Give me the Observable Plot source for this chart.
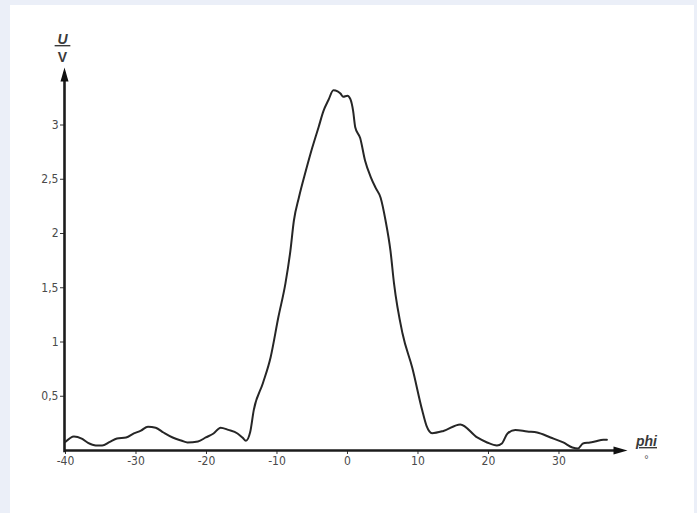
<!DOCTYPE html>
<html><head><meta charset="utf-8">
<script src="https://cdn.jsdelivr.net/npm/d3@7"></script>
<script src="https://cdn.jsdelivr.net/npm/@observablehq/plot@0.6"></script>
<style>
html,body{margin:0;padding:0;background:#ebeff8;width:697px;height:513px;overflow:hidden}
#panel{position:absolute;left:10px;top:5px;width:684px;height:508px;background:#fff}
#chart{position:absolute;left:0;top:0}
</style></head>
<body><div id="panel"></div><div id="chart"></div>
<script>
// Angle phi in degrees
const phi = [-40, -38.8, -37.7, -36.8, -35.7, -34.8, -33.7, -32.7, -31.4, -30.3, -29.3, -28.3, -27.2, -26.1, -24.8, -23.5, -22.7, -21.2, -20.1, -19.0, -18.0, -16.9, -15.6, -14.9, -14.4, -13.8, -13.3, -12.0, -10.9, -9.8, -8.8, -8.1, -7.6, -6.9, -5.9, -5.0, -4.1, -3.4, -2.7, -2.0, -1.4, -1.0, -0.6, 0, 0.4, 0.8, 1.1, 1.8, 2.5, 3.3, 4.0, 4.7, 5.4, 6.1, 6.6, 7.8, 9.2, 10.6, 11.2, 12.0, 13.6, 16.0, 18.4, 19.8, 21.2, 21.9, 22.7, 23.8, 25.5, 26.9, 28.8, 30.6, 31.9, 32.7, 33.4, 34.4, 35.1, 36.3, 36.8];
// Voltage U in volts
const U = [0.08, 0.13, 0.11, 0.07, 0.046, 0.046, 0.08, 0.11, 0.12, 0.157, 0.184, 0.22, 0.21, 0.166, 0.12, 0.09, 0.074, 0.083, 0.12, 0.157, 0.21, 0.19, 0.157, 0.12, 0.09, 0.17, 0.37, 0.62, 0.86, 1.23, 1.54, 1.84, 2.12, 2.33, 2.58, 2.79, 2.98, 3.13, 3.23, 3.32, 3.31, 3.29, 3.26, 3.27, 3.24, 3.13, 2.98, 2.88, 2.67, 2.52, 2.42, 2.33, 2.12, 1.84, 1.54, 1.08, 0.76, 0.37, 0.23, 0.16, 0.18, 0.24, 0.12, 0.074, 0.046, 0.065, 0.157, 0.19, 0.175, 0.166, 0.12, 0.074, 0.028, 0.018, 0.065, 0.074, 0.083, 0.1, 0.1];

const xTicks = [-40, -30, -20, -10, 0, 10, 20, 30];
const xTickLabels = ["-40", "-30", "-20", "-10", "0", "10", "20", "30"];
const yTicks = [0.5, 1, 1.5, 2, 2.5, 3];
const yTickLabels = ["0,5", "1", "1,5", "2", "2,5", "3"];

const xDomain = [-40.14, 39.72];
const yDomain = [0, 3.53];

const data = phi.map((p, i) => ({phi: p, U: U[i]}));

const arrowHead = {
  draw(ctx) { ctx.moveTo(0, -7); ctx.lineTo(4, 7); ctx.lineTo(-4, 7); ctx.closePath(); }
};

const tickFont = "'Liberation Sans Narrow', 'DejaVu Sans Condensed', 'Roboto Condensed', sans-serif";
const labelFont = "'Liberation Sans', Arial, sans-serif";

const chart = Plot.plot({
  width: 697, height: 513,
  marginLeft: 64, marginRight: 70, marginTop: 67, marginBottom: 63,
  style: {background: "transparent", overflow: "visible"},
  x: {domain: xDomain},
  y: {domain: yDomain},
  marks: [
    Plot.axisX(xTicks, {tickSize: 4, tickPadding: 2, tickFormat: d => xTickLabels[xTicks.indexOf(d)], fontSize: 12, fontFamily: tickFont, stroke: "#333", fill: "#4a4a4a", label: null}),
    Plot.axisY(yTicks, {tickSize: 4, tickPadding: 2, tickFormat: d => yTickLabels[yTicks.indexOf(d)], fontSize: 12, fontFamily: tickFont, stroke: "#333", fill: "#4a4a4a", label: null}),
    Plot.ruleY([0], {x1: xDomain[0], x2: xDomain[1] - 1, stroke: "#1c1c1c", strokeWidth: 2.6}),
    Plot.ruleX([xDomain[0]], {y1: -0.02, y2: yDomain[1] - 0.05, stroke: "#1c1c1c", strokeWidth: 2.6}),
    Plot.dot([0], {x: xDomain[1], y: 0, symbol: arrowHead, rotate: 90, dx: -7, fill: "#111", stroke: null}),
    Plot.dot([0], {x: xDomain[0], y: yDomain[1], symbol: arrowHead, dy: 7, fill: "#111", stroke: null}),
    Plot.line(data, {x: "phi", y: "U", curve: "monotone-x", stroke: "#262626", strokeWidth: 2, strokeLinejoin: "round"}),
    Plot.text(["\u2009U\u2009"], {x: xDomain[0], y: yDomain[1], dx: -2, dy: -28, fontSize: 14, fontWeight: "bold", fontStyle: "italic", fill: "#3a3a3a", fontFamily: labelFont}),
    Plot.text(["V"], {x: xDomain[0], y: yDomain[1], dx: -2, dy: -10, fontSize: 14, fontWeight: "bold", fill: "#3a3a3a", fontFamily: labelFont}),
    Plot.text(["phi"], {x: xDomain[1], y: 0, dx: 19, dy: -9, fontSize: 14, fontWeight: "bold", fontStyle: "italic", fill: "#3a3a3a", fontFamily: labelFont}),
    Plot.text(["°"], {x: xDomain[1], y: 0, dx: 19, dy: 9, fontSize: 11, fill: "#555", fontFamily: labelFont})
  ]
});

d3.select(chart).selectAll("text").filter(function() {
  const t = this.textContent;
  return t === "\u2009U\u2009" || t === "phi";
}).attr("text-decoration", "underline");

document.getElementById("chart").appendChild(chart);
</script>
</body></html>
